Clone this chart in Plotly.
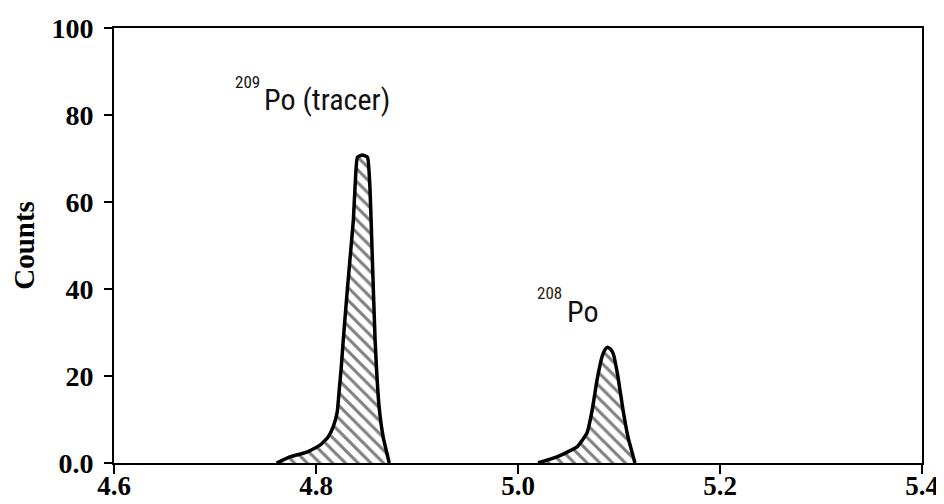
import plotly.graph_objects as go

# Energy (MeV) and counts for the 209Po tracer peak
po209_energy = [4.761, 4.774, 4.791, 4.804, 4.812, 4.817, 4.821, 4.823, 4.825, 4.827,
                4.831, 4.834, 4.837, 4.839, 4.841, 4.846, 4.851, 4.8535, 4.8555,
                4.8585, 4.8625, 4.8665, 4.8725]
po209_counts = [0, 1.4, 2.5, 4.1, 6.0, 8.3, 11.7, 16.8, 22.0, 28.3,
                39.8, 47.8, 55.9, 65.0, 70.3, 70.8, 70.3, 62.8, 49.0,
                28.3, 12.9, 6.0, 0]

# Energy (MeV) and counts for the 208Po peak
po208_energy = [5.0198, 5.0386, 5.0584, 5.0683, 5.0733, 5.0782, 5.0832, 5.0860,
                5.0885, 5.0915, 5.0945, 5.0990, 5.1040, 5.1089, 5.1158]
po208_counts = [0, 1.4, 3.7, 6.9, 12.0, 19.0, 24.4, 26.0,
                26.6, 26.2, 25.0, 19.8, 12.2, 6.0, 0]

x_ticks = [4.6, 4.8, 5.0, 5.2, 5.4]
x_tick_labels = ["4.6", "4.8", "5.0", "5.2", "5.4"]
y_ticks = [0, 20, 40, 60, 80, 100]
y_tick_labels = ["0.0", "20", "40", "60", "80", "100"]

SERIF = "Liberation Serif, Times New Roman, serif"
NARROW = "Roboto Condensed, DejaVu Sans Condensed, Liberation Sans Narrow, sans-serif"

fig = go.Figure()
for ex, cn in [(po209_energy, po209_counts), (po208_energy, po208_counts)]:
    fig.add_trace(go.Scatter(
        x=ex, y=cn, mode="lines",
        line=dict(color="black", width=3.5, shape="spline", smoothing=0.4),
        fill="tozeroy",
        fillcolor="white",
        fillpattern=dict(shape="\\", fgcolor="black", bgcolor="white",
                         size=9, solidity=0.33),
        showlegend=False, hoverinfo="skip",
    ))

annotations = [
    dict(x=4.7178, y=87.7, text="209", font=dict(family=NARROW, size=17, color="#111"),
         xanchor="left", yanchor="middle"),
    dict(x=4.7465, y=83.5, text="Po (tracer)", font=dict(family=NARROW, size=30, color="#111"),
         xanchor="left", yanchor="middle"),
    dict(x=5.0168, y=39.0, text="208", font=dict(family=NARROW, size=17, color="#2a1a0a"),
         xanchor="left", yanchor="middle"),
    dict(x=5.0465, y=34.8, text="Po", font=dict(family=NARROW, size=30, color="#111"),
         xanchor="left", yanchor="middle"),
]
for a in annotations:
    a.update(xref="x", yref="y", showarrow=False)

fig.update_layout(
    width=936, height=496,
    margin=dict(l=106, r=22, t=20, b=41),
    paper_bgcolor="white", plot_bgcolor="white",
    annotations=annotations,
    xaxis=dict(
        range=[4.6, 5.4], tickvals=x_ticks, ticktext=x_tick_labels,
        showline=True, linecolor="black", linewidth=2, mirror=True,
        ticks="outside", ticklen=9, tickwidth=2, tickcolor="black",
        showgrid=False, zeroline=False, automargin=False,
        ticklabelstandoff=-11,
        tickfont=dict(family=SERIF, size=27, color="black", weight="bold"),
    ),
    yaxis=dict(
        range=[0, 100], tickvals=y_ticks, ticktext=y_tick_labels,
        showline=True, linecolor="black", linewidth=2, mirror=True,
        ticks="outside", ticklen=8, tickwidth=2, tickcolor="black",
        showgrid=False, zeroline=False, automargin=False,
        ticklabelstandoff=5,
        tickfont=dict(family=SERIF, size=28, color="black", weight="bold"),
        title=dict(text="Counts", standoff=18,
                   font=dict(family=SERIF, size=29, color="black", weight="bold")),
    ),
)

fig.write_html("out.html")
